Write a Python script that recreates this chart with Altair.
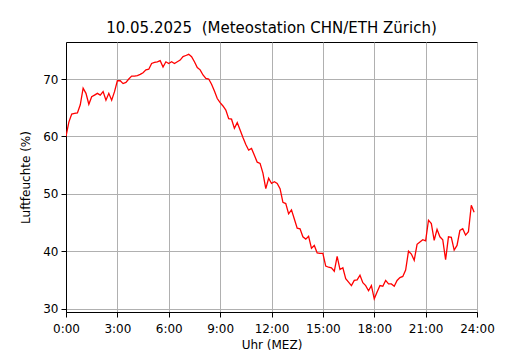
import altair as alt
import pandas as pd

hours = [i / 6 for i in range(144)]
humidity = [
    60.0, 62.5, 63.9, 64.0, 64.1, 65.5, 68.4, 67.5, 65.6, 66.9, 67.2, 67.5,
    67.2, 67.8, 66.3, 67.5, 66.3, 67.8, 69.7, 69.7, 69.2, 69.4, 70.0, 70.5,
    70.5, 70.6, 70.8, 71.1, 71.6, 71.7, 72.7, 72.9, 73.0, 73.2, 72.1, 73.0,
    72.7, 73.0, 72.7, 73.0, 73.3, 73.9, 74.1, 74.3, 73.9, 73.0, 72.0, 71.6,
    70.7, 70.1, 70.0, 69.1, 67.9, 66.6, 65.9, 65.3, 64.6, 63.1, 63.0, 61.4,
    62.4, 61.1, 59.8, 58.6, 57.6, 57.9, 56.7, 55.5, 55.3, 53.6, 50.9, 52.7,
    51.8, 52.1, 51.8, 50.9, 48.5, 48.3, 46.5, 47.2, 45.6, 44.0, 43.9, 42.5,
    42.1, 42.6, 40.5, 41.0, 39.7, 39.6, 39.6, 37.4, 37.2, 37.1, 36.5, 39.1,
    36.8, 37.1, 35.2, 34.6, 34.0, 34.9, 35.0, 35.8, 34.5, 34.0, 33.1, 34.0,
    31.7, 32.9, 34.0, 33.9, 34.9, 34.3, 34.3, 33.9, 34.9, 35.4, 35.6, 36.7,
    40.0, 39.5, 38.4, 41.2, 41.6, 42.0, 41.8, 45.4, 44.8, 41.9, 43.8, 42.5,
    42.0, 38.5, 42.5, 42.4, 40.2, 41.0, 43.6, 43.9, 42.8, 43.4, 48.0, 46.8,
]
x_ticks = [0, 3, 6, 9, 12, 15, 18, 21, 24]
y_ticks = [30, 40, 50, 60, 70]

df = pd.DataFrame({"h": hours, "rh": humidity})

chart = (
    alt.Chart(df)
    .mark_line(color="#ff0000", strokeWidth=1.3, clip=True)
    .encode(
        x=alt.X(
            "h:Q",
            scale=alt.Scale(domain=[0, 24], nice=False, zero=False),
            axis=alt.Axis(
                values=x_ticks,
                labelExpr="datum.value + ':00'",
                labelFlush=False,
                labelOverlap=False,
                labelPadding=6,
                title="Uhr (MEZ)",
                titlePadding=5,
            ),
        ),
        y=alt.Y(
            "rh:Q",
            scale=alt.Scale(domain=[29.4, 76.45], nice=False, zero=False),
            axis=alt.Axis(
                values=y_ticks,
                labelFlush=False,
                labelOverlap=False,
                labelPadding=3,
                title="Luftfeuchte (%)",
                titlePadding=10,
            ),
        ),
    )
    .properties(
        width=411,
        height=270,
        title=alt.TitleParams(
            "10.05.2025 \u00a0(Meteostation CHN/ETH Zürich)",
            fontSize=15,
            fontWeight="normal",
            font="DejaVu Sans",
            color="black",
            anchor="middle",
            offset=6,
        ),
        autosize=alt.AutoSizeParams(type="none"),
        padding={"left": 58, "top": 34, "right": 45, "bottom": 40},
    )
    .configure(font="DejaVu Sans")
    .configure_view(stroke="black", strokeWidth=1)
    .configure_axis(
        grid=True,
        gridColor="#b0b0b0",
        gridWidth=1,
        domainColor="black",
        domainWidth=1,
        tickColor="black",
        tickSize=5,
        tickWidth=1,
        labelColor="black",
        labelFontSize=12,
        titleColor="black",
        titleFontSize=12,
        titleFontWeight="normal",
        labelFont="DejaVu Sans",
        titleFont="DejaVu Sans",
    )
)

chart.save("out.html", embed_options={"renderer": "svg", "actions": False})
